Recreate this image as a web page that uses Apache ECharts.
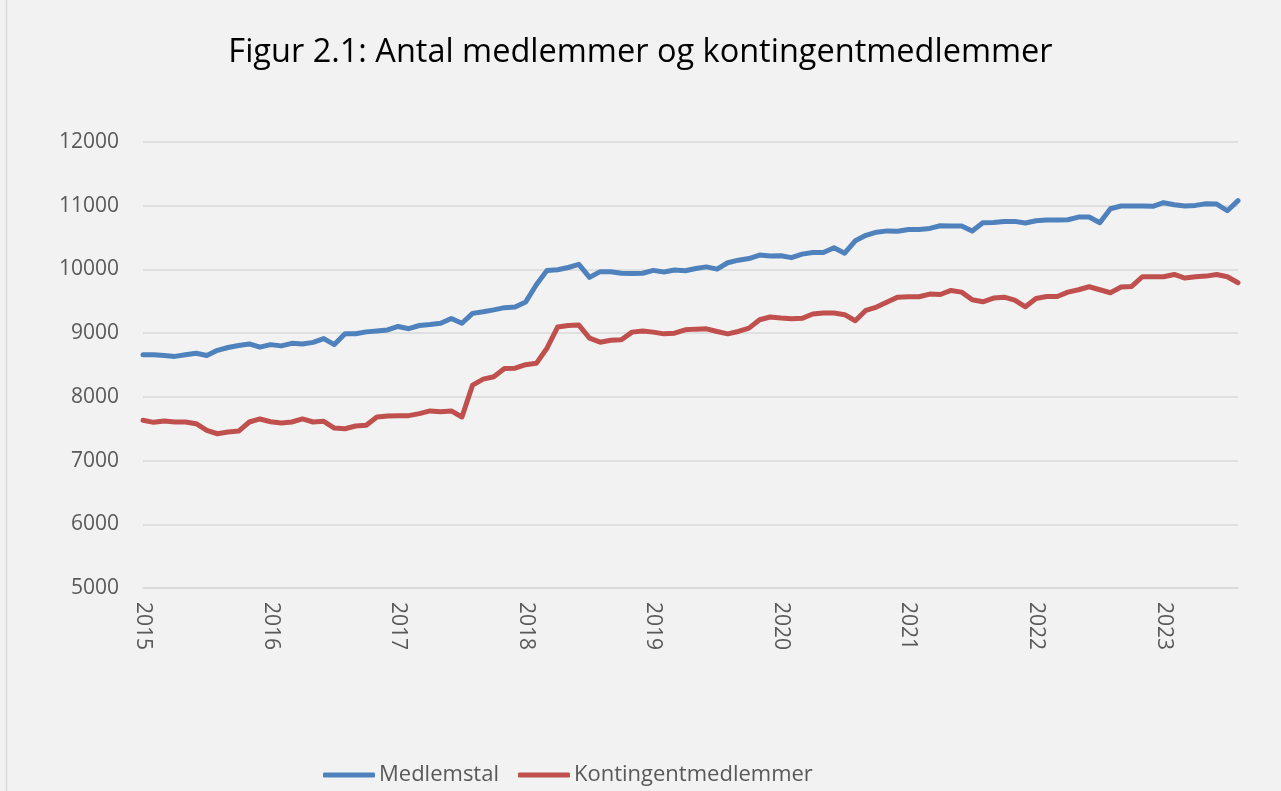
<!DOCTYPE html>
<html>
<head>
<meta charset="utf-8">
<script src="https://cdn.jsdelivr.net/npm/echarts@6/dist/echarts.min.js"></script>
<style>
  html, body { margin: 0; padding: 0; background: #f2f2f2; }
  #chart { width: 1281px; height: 791px; }
</style>
</head>
<body>
<div id="chart"></div>
<script>
// monthly, 2015-01 .. 2023-08
var startYear = 2015;
var monthCount = 104;

var medlemstal = [
  8660, 8660, 8650, 8635, 8660, 8685, 8650, 8730, 8775, 8805, 8830, 8780,
  8820, 8800, 8840, 8830, 8855, 8915, 8820, 8990, 8990, 9020, 9035, 9050,
  9105, 9070, 9120, 9135, 9155, 9230, 9155, 9310, 9335, 9365, 9400, 9410,
  9490, 9760, 9985, 9995, 10030, 10080, 9875, 9965, 9965, 9940, 9935, 9940,
  9985, 9960, 9990, 9980, 10015, 10040, 10005, 10105, 10145, 10170, 10225, 10210,
  10215, 10185, 10240, 10265, 10265, 10340, 10255, 10450, 10535, 10585, 10605, 10600,
  10628, 10628, 10644, 10686, 10680, 10680, 10602, 10733, 10738, 10754, 10754, 10728,
  10764, 10775, 10775, 10780, 10822, 10822, 10733, 10953, 10995, 10995, 10995, 10990,
  11047, 11016, 10995, 11005, 11031, 11026, 10921, 11079
];

var kontingent = [
  7632, 7600, 7621, 7605, 7605, 7579, 7474, 7421, 7447, 7463, 7605, 7653,
  7610, 7590, 7605, 7653, 7605, 7616, 7510, 7500, 7542, 7553, 7684, 7700,
  7705, 7705, 7737, 7779, 7768, 7779, 7684, 8184, 8279, 8316, 8445, 8450,
  8505, 8526, 8763, 9095, 9121, 9126, 8921, 8858, 8889, 8895, 9016, 9032,
  9016, 8989, 9000, 9053, 9063, 9068, 9026, 8989, 9026, 9079, 9210, 9253,
  9237, 9226, 9232, 9300, 9316, 9316, 9290, 9195, 9358, 9410, 9490, 9565,
  9571, 9571, 9613, 9607, 9670, 9644, 9524, 9492, 9550, 9565, 9518, 9414,
  9545, 9576, 9576, 9644, 9681, 9728, 9681, 9634, 9723, 9733, 9885, 9885,
  9885, 9921, 9864, 9885, 9895, 9921, 9885, 9791
];

var months = [];
for (var i = 0; i < monthCount; i++) {
  var y = startYear + Math.floor(i / 12);
  var m = (i % 12) + 1;
  months.push(y + '-' + (m < 10 ? '0' + m : m));
}

var font = '"Open Sans", "Noto Sans", sans-serif';
var chart = echarts.init(document.getElementById('chart'));

var option = {
  backgroundColor: '#f2f2f2',
  animation: false,
  textStyle: { fontFamily: font },
  title: {
    text: 'Figur 2.1: Antal medlemmer og kontingentmedlemmer',
    left: 'center',
    top: 31,
    textStyle: {
      fontFamily: font,
      fontSize: 32.5,
      fontWeight: 'normal',
      color: '#000'
    }
  },
  graphic: [{
    type: 'line',
    shape: { x1: 6.5, y1: 0, x2: 6.5, y2: 791 },
    style: { stroke: '#d9d9d9', lineWidth: 1.5 }
  }],
  legend: {
    left: 318,
    top: 759,
    icon: 'roundRect',
    itemWidth: 52,
    itemHeight: 5,
    itemGap: 19,
    textStyle: { fontFamily: font, fontSize: 22, color: '#595959', padding: [0, 0, 0, -1] },
    data: ['Medlemstal', 'Kontingentmedlemmer']
  },
  grid: {
    left: 143,
    right: 43,
    top: 142,
    bottom: 203
  },
  xAxis: {
    type: 'category',
    boundaryGap: false,
    data: months,
    axisLine: { lineStyle: { color: '#d9d9d9', width: 1.5 } },
    axisTick: { show: false },
    axisLabel: {
      interval: 11,
      rotate: -90,
      margin: 14,
      fontFamily: font,
      fontSize: 21,
      color: '#595959',
      formatter: function (v) { return v.slice(0, 4); }
    },
    splitLine: { show: false }
  },
  yAxis: {
    type: 'value',
    min: 5000,
    max: 12000,
    interval: 1000,
    axisLine: { show: false },
    axisTick: { show: false },
    axisLabel: {
      margin: 24,
      fontFamily: font,
      fontSize: 21,
      color: '#595959',
      formatter: function (v) { return String(v); }
    },
    splitLine: { lineStyle: { color: '#d9d9d9', width: 1.5 } }
  },
  series: [{
    name: 'Medlemstal',
    type: 'line',
    symbol: 'none',
    data: medlemstal,
    lineStyle: { color: '#4f81bd', width: 5, join: 'round', cap: 'round' },
    itemStyle: { color: '#4f81bd' }
  }, {
    name: 'Kontingentmedlemmer',
    type: 'line',
    symbol: 'none',
    data: kontingent,
    lineStyle: { color: '#c0504d', width: 5, join: 'round', cap: 'round' },
    itemStyle: { color: '#c0504d' }
  }]
};

chart.setOption(option);
</script>
</body>
</html>
